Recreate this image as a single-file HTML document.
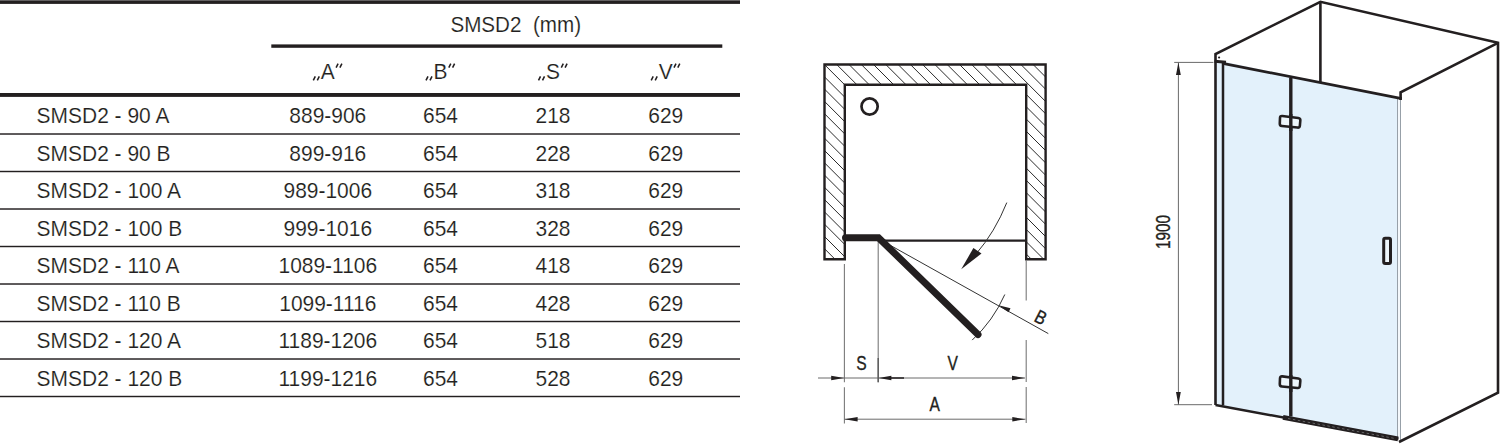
<!DOCTYPE html>
<html><head><meta charset="utf-8"><style>
html,body{margin:0;padding:0;background:#fff;width:1500px;height:444px;overflow:hidden}
svg{position:absolute;left:0;top:0;display:block}
text{font-family:"Liberation Sans",sans-serif;fill:#231f20}
.tt text{stroke:#fff;stroke-width:0.15px}
.lb{stroke:#231f20;stroke-width:0.35px}
</style></head><body>
<svg width="1500" height="444" viewBox="0 0 1500 444">

<g class="tt">
<rect x="0" y="0.3" width="740" height="3.6" fill="#231f20"/>
<rect x="271.3" y="44.4" width="451" height="3.4" fill="#231f20"/>
<rect x="0" y="93" width="740" height="3.9" fill="#231f20"/>
<rect x="0" y="133.28" width="740" height="1.45" fill="#231f20"/>
<rect x="0" y="170.78" width="740" height="1.45" fill="#231f20"/>
<rect x="0" y="208.28" width="740" height="1.45" fill="#231f20"/>
<rect x="0" y="245.78" width="740" height="1.45" fill="#231f20"/>
<rect x="0" y="283.28" width="740" height="1.45" fill="#231f20"/>
<rect x="0" y="320.78" width="740" height="1.45" fill="#231f20"/>
<rect x="0" y="358.28" width="740" height="1.45" fill="#231f20"/>
<rect x="0" y="395.78" width="740" height="1.45" fill="#231f20"/>
<text transform="translate(515.7,32) scale(0.917,1)" font-size="22.5" text-anchor="middle" xml:space="preserve">SMSD2  (mm)</text>
<text transform="translate(327.8,78.6) scale(0.932,1)" font-size="22.5" text-anchor="middle" xml:space="preserve">A</text>
<text transform="translate(440.5,78.6) scale(0.932,1)" font-size="22.5" text-anchor="middle" xml:space="preserve">B</text>
<text transform="translate(553,78.6) scale(0.932,1)" font-size="22.5" text-anchor="middle" xml:space="preserve">S</text>
<text transform="translate(665.7,78.6) scale(0.932,1)" font-size="22.5" text-anchor="middle" xml:space="preserve">V</text>
<path d="M313.3,80.4 L315.3,76.4 M317.3,80.4 L319.3,76.4 M336.1,67.6 L338.1,63.6 M339.9,67.6 L341.9,63.6 M426.0,80.4 L428.0,76.4 M430.0,80.4 L432.0,76.4 M448.8,67.6 L450.8,63.6 M452.6,67.6 L454.6,63.6 M538.5,80.4 L540.5,76.4 M542.5,80.4 L544.5,76.4 M561.3,67.6 L563.3,63.6 M565.1,67.6 L567.1,63.6 M651.2,80.4 L653.2,76.4 M655.2,80.4 L657.2,76.4 M674.0,67.6 L676.0,63.6 M677.8,67.6 L679.8,63.6" stroke="#231f20" stroke-width="1.55" fill="none"/>
<text transform="translate(36.6,123.0) scale(0.932,1)" font-size="22.5" text-anchor="start" xml:space="preserve">SMSD2 - 90 A</text>
<text transform="translate(327.8,123.0) scale(0.932,1)" font-size="22.5" text-anchor="middle" xml:space="preserve">889-906</text>
<text transform="translate(440.5,123.0) scale(0.932,1)" font-size="22.5" text-anchor="middle" xml:space="preserve">654</text>
<text transform="translate(553,123.0) scale(0.932,1)" font-size="22.5" text-anchor="middle" xml:space="preserve">218</text>
<text transform="translate(665.7,123.0) scale(0.932,1)" font-size="22.5" text-anchor="middle" xml:space="preserve">629</text>
<text transform="translate(36.6,160.5) scale(0.932,1)" font-size="22.5" text-anchor="start" xml:space="preserve">SMSD2 - 90 B</text>
<text transform="translate(327.8,160.5) scale(0.932,1)" font-size="22.5" text-anchor="middle" xml:space="preserve">899-916</text>
<text transform="translate(440.5,160.5) scale(0.932,1)" font-size="22.5" text-anchor="middle" xml:space="preserve">654</text>
<text transform="translate(553,160.5) scale(0.932,1)" font-size="22.5" text-anchor="middle" xml:space="preserve">228</text>
<text transform="translate(665.7,160.5) scale(0.932,1)" font-size="22.5" text-anchor="middle" xml:space="preserve">629</text>
<text transform="translate(36.6,198.0) scale(0.932,1)" font-size="22.5" text-anchor="start" xml:space="preserve">SMSD2 - 100 A</text>
<text transform="translate(327.8,198.0) scale(0.932,1)" font-size="22.5" text-anchor="middle" xml:space="preserve">989-1006</text>
<text transform="translate(440.5,198.0) scale(0.932,1)" font-size="22.5" text-anchor="middle" xml:space="preserve">654</text>
<text transform="translate(553,198.0) scale(0.932,1)" font-size="22.5" text-anchor="middle" xml:space="preserve">318</text>
<text transform="translate(665.7,198.0) scale(0.932,1)" font-size="22.5" text-anchor="middle" xml:space="preserve">629</text>
<text transform="translate(36.6,235.5) scale(0.932,1)" font-size="22.5" text-anchor="start" xml:space="preserve">SMSD2 - 100 B</text>
<text transform="translate(327.8,235.5) scale(0.932,1)" font-size="22.5" text-anchor="middle" xml:space="preserve">999-1016</text>
<text transform="translate(440.5,235.5) scale(0.932,1)" font-size="22.5" text-anchor="middle" xml:space="preserve">654</text>
<text transform="translate(553,235.5) scale(0.932,1)" font-size="22.5" text-anchor="middle" xml:space="preserve">328</text>
<text transform="translate(665.7,235.5) scale(0.932,1)" font-size="22.5" text-anchor="middle" xml:space="preserve">629</text>
<text transform="translate(36.6,273.0) scale(0.932,1)" font-size="22.5" text-anchor="start" xml:space="preserve">SMSD2 - 110 A</text>
<text transform="translate(327.8,273.0) scale(0.932,1)" font-size="22.5" text-anchor="middle" xml:space="preserve">1089-1106</text>
<text transform="translate(440.5,273.0) scale(0.932,1)" font-size="22.5" text-anchor="middle" xml:space="preserve">654</text>
<text transform="translate(553,273.0) scale(0.932,1)" font-size="22.5" text-anchor="middle" xml:space="preserve">418</text>
<text transform="translate(665.7,273.0) scale(0.932,1)" font-size="22.5" text-anchor="middle" xml:space="preserve">629</text>
<text transform="translate(36.6,310.5) scale(0.932,1)" font-size="22.5" text-anchor="start" xml:space="preserve">SMSD2 - 110 B</text>
<text transform="translate(327.8,310.5) scale(0.932,1)" font-size="22.5" text-anchor="middle" xml:space="preserve">1099-1116</text>
<text transform="translate(440.5,310.5) scale(0.932,1)" font-size="22.5" text-anchor="middle" xml:space="preserve">654</text>
<text transform="translate(553,310.5) scale(0.932,1)" font-size="22.5" text-anchor="middle" xml:space="preserve">428</text>
<text transform="translate(665.7,310.5) scale(0.932,1)" font-size="22.5" text-anchor="middle" xml:space="preserve">629</text>
<text transform="translate(36.6,348.0) scale(0.932,1)" font-size="22.5" text-anchor="start" xml:space="preserve">SMSD2 - 120 A</text>
<text transform="translate(327.8,348.0) scale(0.932,1)" font-size="22.5" text-anchor="middle" xml:space="preserve">1189-1206</text>
<text transform="translate(440.5,348.0) scale(0.932,1)" font-size="22.5" text-anchor="middle" xml:space="preserve">654</text>
<text transform="translate(553,348.0) scale(0.932,1)" font-size="22.5" text-anchor="middle" xml:space="preserve">518</text>
<text transform="translate(665.7,348.0) scale(0.932,1)" font-size="22.5" text-anchor="middle" xml:space="preserve">629</text>
<text transform="translate(36.6,385.5) scale(0.932,1)" font-size="22.5" text-anchor="start" xml:space="preserve">SMSD2 - 120 B</text>
<text transform="translate(327.8,385.5) scale(0.932,1)" font-size="22.5" text-anchor="middle" xml:space="preserve">1199-1216</text>
<text transform="translate(440.5,385.5) scale(0.932,1)" font-size="22.5" text-anchor="middle" xml:space="preserve">654</text>
<text transform="translate(553,385.5) scale(0.932,1)" font-size="22.5" text-anchor="middle" xml:space="preserve">528</text>
<text transform="translate(665.7,385.5) scale(0.932,1)" font-size="22.5" text-anchor="middle" xml:space="preserve">629</text>
</g>
<clipPath id="wc"><path d="M824.5,64.5 H1045.6 V259.3 H1026.2 V84.8 H844.8 V259.3 H824.5 Z"/></clipPath>
<path clip-path="url(#wc)" d="M463.9,60 L668.9,265 M476.2,60 L681.2,265 M488.4,60 L693.4,265 M500.7,60 L705.7,265 M513.0,60 L718.0,265 M525.3,60 L730.3,265 M537.6,60 L742.6,265 M549.8,60 L754.8,265 M562.1,60 L767.1,265 M574.4,60 L779.4,265 M586.7,60 L791.7,265 M598.9,60 L803.9,265 M611.2,60 L816.2,265 M623.5,60 L828.5,265 M635.8,60 L840.8,265 M648.0,60 L853.0,265 M660.3,60 L865.3,265 M672.6,60 L877.6,265 M684.9,60 L889.9,265 M697.2,60 L902.2,265 M709.4,60 L914.4,265 M721.7,60 L926.7,265 M734.0,60 L939.0,265 M746.3,60 L951.3,265 M758.5,60 L963.5,265 M770.8,60 L975.8,265 M783.1,60 L988.1,265 M795.4,60 L1000.4,265 M807.6,60 L1012.6,265 M819.9,60 L1024.9,265 M832.2,60 L1037.2,265 M844.5,60 L1049.5,265 M856.8,60 L1061.8,265 M869.0,60 L1074.0,265 M881.3,60 L1086.3,265 M893.6,60 L1098.6,265 M905.9,60 L1110.9,265 M918.1,60 L1123.1,265 M930.4,60 L1135.4,265 M942.7,60 L1147.7,265 M955.0,60 L1160.0,265 M967.2,60 L1172.2,265 M979.5,60 L1184.5,265 M991.8,60 L1196.8,265 M1004.1,60 L1209.1,265 M1016.4,60 L1221.4,265 M1028.6,60 L1233.6,265 M1040.9,60 L1245.9,265 M1053.2,60 L1258.2,265 M1065.5,60 L1270.5,265 M1077.7,60 L1282.7,265 M1090.0,60 L1295.0,265 M1102.3,60 L1307.3,265 M1114.6,60 L1319.6,265 M1126.8,60 L1331.8,265 M1139.1,60 L1344.1,265 M1151.4,60 L1356.4,265 M1163.7,60 L1368.7,265 M1176.0,60 L1381.0,265 M1188.2,60 L1393.2,265 M1200.5,60 L1405.5,265 M1212.8,60 L1417.8,265 M1225.1,60 L1430.1,265 M1237.3,60 L1442.3,265 M1249.6,60 L1454.6,265 M1261.9,60 L1466.9,265 M1274.2,60 L1479.2,265 M1286.4,60 L1491.4,265 M1298.7,60 L1503.7,265 M1311.0,60 L1516.0,265" stroke="#2a2a2a" stroke-width="1" fill="none"/>
<path d="M824.5,64.5 H1045.6 V259.3 H1026.2 V84.8 H844.8 V259.3 H824.5 Z" fill="none" stroke="#231f20" stroke-width="2.4"/>
<circle cx="869.6" cy="106.5" r="8.1" fill="none" stroke="#231f20" stroke-width="2.7"/>
<path d="M844.4,264 V382.3 M844.4,387.3 V423.4 M878.2,240 V382.3 M1026.2,260 V300.5 M1026.2,340 V382 M1026.2,387 V423" stroke="#7a7a7a" stroke-width="1.1" fill="none"/>
<path d="M878,240.6 H1026" stroke="#231f20" stroke-width="2.1" fill="none"/>
<path d="M879,239 L1048.3,333.6" stroke="#333" stroke-width="1" fill="none"/>
<path d="M1004.8,294.5 A137.5,137.5 0 0 1 972.2,340.1" stroke="#333" stroke-width="1" fill="none"/>
<path d="M998.6,305.2 L1010.5,308.3 L1008.6,312.2 Z" fill="#231f20"/>
<path d="M1006.8,202.6 Q995,232 976,254" stroke="#333" stroke-width="1" fill="none"/>
<path d="M961.2,269.3 L973.4,248 L981.5,253.5 Z" fill="#231f20"/>
<path d="M845.5,237.7 H878.5 L978,334.5" stroke="#231f20" stroke-width="7" stroke-linecap="round" stroke-linejoin="miter" fill="none"/>
<path d="M818,378 H1025 M844.4,419.2 H1025.5" stroke="#6a6a6a" stroke-width="1" fill="none"/>
<path d="M844.2,378 L831.2,375.8 L831.2,380.2 Z" fill="#231f20"/>
<path d="M878.4,378 L891.4,375.8 L891.4,380.2 Z" fill="#231f20"/>
<path d="M890,378 H904" stroke="#231f20" stroke-width="1.5"/>
<path d="M1025,378 L1012,375.8 L1012,380.2 Z" fill="#231f20"/>
<path d="M844.6,419.2 L857.6,417.0 L857.6,421.4 Z" fill="#231f20"/>
<path d="M1025.3,419.2 L1012.3,417.0 L1012.3,421.4 Z" fill="#231f20"/>
<path d="M878.2,358 V382.3" stroke="#5a5a5a" stroke-width="1.4"/>
<text x="0" y="0" font-size="19.5" class="lb"  transform="translate(856.3,369.6) scale(0.8,1)">S</text>
<text x="0" y="0" font-size="19.5" class="lb"  transform="translate(947.6,370.3) scale(0.8,1)">V</text>
<text x="0" y="0" font-size="19.5" class="lb"  transform="translate(929.6,410.6) scale(0.8,1)">A</text>
<text x="0" y="0" font-size="19" class="lb" transform="translate(1033,320.7) rotate(27) scale(0.85,1)">B</text>
<path d="M1216,60 L1400,98.3 L1398.5,438.5 L1216,405 Z" fill="#e3f1fb"/>
<path d="M1399,99 V439" stroke="#f4f8fb" stroke-width="2.2" fill="none"/>
<path d="M1397.5,99 V438 M1400.5,100 V440" stroke="#97a0a8" stroke-width="1" fill="none"/>
<path d="M1215.5,405 V54 L1320.4,1.8 L1498,42.8 V392.7 L1399,442" stroke="#231f20" stroke-width="2.6" fill="none" stroke-linejoin="miter"/>
<path d="M1320.4,1.8 V82.5" stroke="#231f20" stroke-width="2.6" fill="none"/>
<path d="M1498,42.8 L1400.6,92.4 V100" stroke="#231f20" stroke-width="2.6" fill="none"/>
<path d="M1224,63.6 L1401.8,98.6" stroke="#231f20" stroke-width="2.7" fill="none"/>
<path d="M1214.5,61.3 L1226,62.3" stroke="#231f20" stroke-width="3" fill="none"/>
<circle cx="1219.1" cy="57.5" r="1.1" fill="#231f20"/>
<path d="M1223,62 V405.3" stroke="#231f20" stroke-width="2.5" fill="none"/>
<path d="M1215.5,405 L1398.5,438.8" stroke="#231f20" stroke-width="2.5" fill="none"/>
<path d="M1283,417.3 L1398,438.8" stroke="#231f20" stroke-width="4.8" fill="none"/>
<path d="M1288,418.5 L1396,438.7" stroke="#6b6b6b" stroke-width="0.9" stroke-dasharray="2.5,2.5" fill="none"/>
<path d="M1290.8,77.7 V416.5" stroke="#231f20" stroke-width="3.4" fill="none"/>
<path d="M1280.01,117.90 Q1280.10,115.70 1282.28,115.98 L1298.32,118.02 Q1300.50,118.30 1300.32,120.49 L1299.88,125.61 Q1299.70,127.80 1297.51,127.58 L1281.89,126.02 Q1279.70,125.80 1279.79,123.60 Z" fill="#eef7fc" stroke="#231f20" stroke-width="2.6"/>
<path d="M1280.01,378.30 Q1280.10,376.10 1282.28,376.38 L1298.32,378.42 Q1300.50,378.70 1300.32,380.89 L1299.88,386.01 Q1299.70,388.20 1297.51,387.98 L1281.89,386.42 Q1279.70,386.20 1279.79,384.00 Z" fill="#eef7fc" stroke="#231f20" stroke-width="2.6"/>
<path d="M1290.8,114 V131 M1290.8,375 V392" stroke="#231f20" stroke-width="3.4" fill="none"/>
<rect x="1383.7" y="238.3" width="6.8" height="25.2" rx="1.5" fill="#eef7fc" stroke="#231f20" stroke-width="3"/>
<path d="M1174.2,62.4 H1213.4 M1174.2,404.7 H1212 M1178.4,62.4 V404.7" stroke="#6a6a6a" stroke-width="1" fill="none"/>
<path d="M1178.4,62.4 L1176,75 L1180.8,75 Z M1178.4,404.7 L1176,392 L1180.8,392 Z" fill="#231f20"/>
<text x="0" y="0" font-size="19.5" class="lb"  transform="translate(1170.3,249) rotate(-90) scale(0.785,1)">1900</text>
</svg></body></html>
